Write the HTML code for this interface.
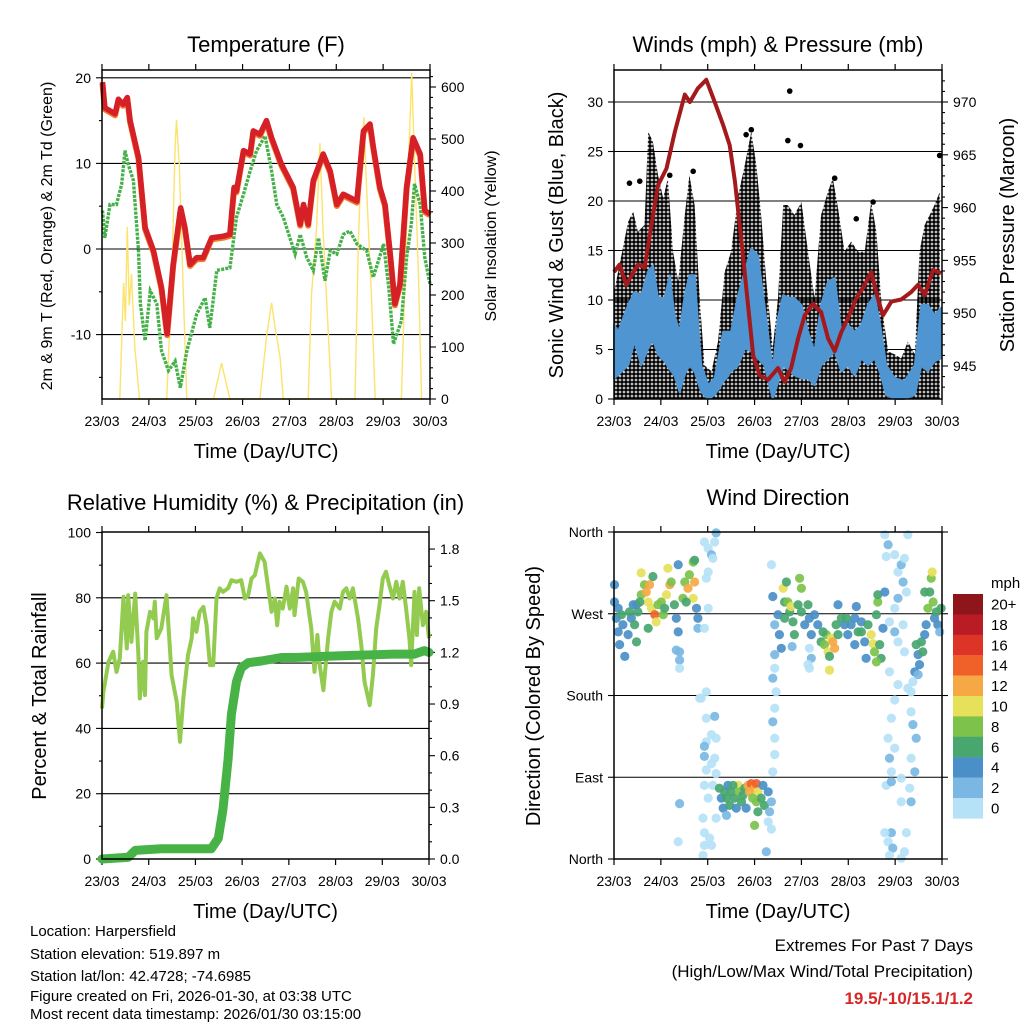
<!DOCTYPE html>
<html><head><meta charset="utf-8">
<style>
html,body{margin:0;padding:0;background:#fff;}
svg{display:block;font-family:"Liberation Sans",Arial,sans-serif;}
</style></head>
<body>
<svg id="chart" width="1024" height="1024" viewBox="0 0 1024 1024" xmlns="http://www.w3.org/2000/svg">
<defs>
<pattern id="dots" width="4" height="4" patternUnits="userSpaceOnUse"><circle cx="2" cy="2" r="1.9" fill="#000"/></pattern>
</defs>
<rect width="1024" height="1024" fill="#fff"/>
<g id="p1"></g>
<g id="p2"></g>
<g id="p3"></g>
<g id="p4"></g>
<g id="cb"></g>
<g font-size="15" fill="#000">
<text x="30" y="936">Location: Harpersfield</text>
<text x="30" y="959">Station elevation: 519.897 m</text>
<text x="30" y="981">Station lat/lon: 42.4728; -74.6985</text>
<text x="30" y="1001">Figure created on Fri, 2026-01-30, at 03:38 UTC</text>
<text x="30" y="1019">Most recent data timestamp: 2026/01/30 03:15:00</text>
</g>
<g text-anchor="end">
<text x="973" y="951" font-size="17">Extremes For Past 7 Days</text>
<text x="973" y="977" font-size="17">(High/Low/Max Wind/Total Precipitation)</text>
<text x="973" y="1004" font-size="17" font-weight="bold" fill="#d62728">19.5/-10/15.1/1.2</text>
</g>
</svg>
<script>
// ---------- data ----------
const dayLabels = ["23/03","24/03","25/03","26/03","27/03","28/03","29/03","30/03"];
// Temperature (F)
const tDays = [0.01,0.06,0.28,0.35,0.45,0.54,0.60,0.78,0.92,1.10,1.27,1.39,1.52,1.68,1.77,1.88,2.02,2.16,2.34,2.59,2.73,2.82,2.87,3.02,3.16,3.23,3.37,3.51,3.62,3.83,4.08,4.23,4.30,4.40,4.51,4.72,4.87,5.01,5.15,5.29,5.44,5.58,5.72,5.79,5.93,6.04,6.15,6.25,6.36,6.50,6.64,6.79,6.89,7.0];
const tRed = [19.5,16.5,15.8,17.5,16.9,17.7,15.0,10.7,2.5,-0.2,-4.5,-9.9,-1.8,4.8,2.5,-1.8,-1.0,-1.0,1.3,1.5,1.7,7.2,6.8,11.5,11.1,13.8,13.4,15.0,13.0,9.9,7.2,2.9,5.2,2.9,8.0,11.1,9.1,5.2,6.4,6.0,5.6,13.8,14.6,11.9,7.2,5.2,-0.6,-6.4,-4.1,7.2,13.0,11.1,4.5,4.1];
const tdDays = [0.01,0.06,0.17,0.31,0.42,0.49,0.56,0.67,0.78,0.82,0.92,1.03,1.17,1.27,1.42,1.56,1.67,1.81,2.02,2.20,2.30,2.45,2.73,2.87,3.02,3.16,3.30,3.48,3.62,3.73,3.87,4.01,4.12,4.23,4.37,4.51,4.62,4.76,4.87,5.01,5.15,5.29,5.44,5.65,5.79,6.01,6.12,6.22,6.39,6.50,6.60,6.67,6.79,6.89,7.0];
const tdGreen = [4.5,1.3,5.2,5.2,7.6,11.5,9.9,8.0,-0.2,-6.4,-10.7,-4.9,-6.4,-11.9,-14.2,-13.1,-16.2,-11.9,-7.6,-5.7,-9.2,-2.5,-2.2,3.7,6.4,9.1,11.5,13.2,9.1,5.2,3.7,1.3,-0.6,1.7,-1.0,-2.5,1.3,-3.7,-0.2,-0.6,1.7,2.1,0.6,-0.2,-3.3,0.6,-4.5,-11.1,-8.4,-1.0,2.9,7.6,5.2,-1.0,-4.1];
const solDays = [0.38,0.46,0.50,0.54,0.58,0.63,0.70,0.80, 1.38,1.49,1.56,1.59,1.65,1.70,1.81, 2.38,2.55,2.73, 3.37,3.51,3.62,3.69,3.80,3.87, 4.40,4.47,4.58,4.65,4.72,4.79,4.90, 5.40,5.47,5.54,5.59,5.65,5.75,5.83, 6.39,6.47,6.54,6.61,6.68,6.75,6.82];
const solVals = [0,223,150,331,180,240,100,0, 0,230,485,537,450,300,0, 0,69,0, 0,120,185,140,80,0, 0,200,330,492,320,200,0, 0,300,470,542,400,200,0, 0,250,450,627,430,250,0];
// Winds (mph) & pressure (mb)
const presDays = [0,0.12,0.26,0.51,0.65,0.80,0.94,1.12,1.30,1.51,1.62,1.79,1.97,2.15,2.33,2.47,2.58,2.72,2.86,2.97,3.11,3.29,3.50,3.64,3.78,3.93,4.07,4.25,4.42,4.57,4.71,4.85,4.99,5.17,5.35,5.49,5.63,5.74,5.92,6.13,6.34,6.49,6.63,6.81,6.98];
const presVals = [953.9,954.6,952.7,954.6,954.3,958.4,962.1,963.7,967.2,970.7,970.0,971.3,972.1,970.0,967.8,965.9,962.5,956.8,950.8,946.0,944.1,943.7,944.8,943.5,944.8,947.6,949.8,950.9,950.1,947.6,946.4,948.2,949.5,951.4,952.7,953.9,951.4,949.8,951.1,951.3,952.0,952.7,951.7,954.1,953.8];
const gustDays = [0,0.09,0.30,0.41,0.51,0.65,0.73,0.83,0.94,1.05,1.15,1.26,1.37,1.51,1.61,1.72,1.83,1.93,2.08,2.22,2.36,2.50,2.65,2.79,2.93,3.04,3.14,3.25,3.39,3.50,3.61,3.71,3.85,4.00,4.14,4.28,4.42,4.57,4.67,4.78,4.92,5.06,5.21,5.35,5.49,5.60,5.71,5.85,5.99,6.13,6.27,6.42,6.52,6.63,6.74,6.84,6.95];
const gustHi = [10.8,12.9,17.9,18.9,16.9,17.6,27.0,26.0,22.6,20.3,22.3,14.9,11.9,18.6,22.6,19.6,10.2,3.4,2.8,5.8,12.8,14.9,20.6,23.6,27.0,23.6,18.6,11.9,5.2,10.2,19.6,19.6,18.6,19.9,14.9,10.2,18.6,21.0,22.3,19.3,14.9,15.9,14.9,14.9,19.9,16.9,9.5,4.8,4.5,4.1,5.8,4.5,14.9,17.6,18.6,19.6,20.9];
const gustOutDays = [3.75,3.71,3.98,6.95,2.82,2.93,0.33,0.55,1.69,1.19,4.71,5.53,5.17];
const gustOutVals = [31.1,26.1,25.6,24.6,26.7,27.2,21.8,22.0,23.0,22.6,22.3,19.9,18.2];
const windDays = [0,0.09,0.30,0.44,0.58,0.73,0.83,0.94,1.08,1.19,1.29,1.40,1.51,1.61,1.72,1.86,2.01,2.15,2.33,2.50,2.65,2.79,2.93,3.07,3.21,3.39,3.50,3.61,3.75,3.85,4.00,4.14,4.28,4.42,4.57,4.71,4.85,4.99,5.14,5.28,5.42,5.56,5.67,5.81,5.99,6.20,6.42,6.56,6.70,6.84,6.98];
const windHi = [7.5,6.8,9.5,10.8,10.5,12.9,13.5,10.2,10.2,12.5,8.5,6.8,10.5,12.5,12.5,3.4,1.4,2.1,6.8,6.8,10.5,12.9,15.2,14.5,9.5,2.8,8.2,10.5,10.2,10.2,9.5,6.8,4.8,9.5,11.9,12.2,6.8,7.5,6.8,7.5,9.5,10.5,7.8,3.4,2.1,1.8,3.4,9.5,9.5,8.5,9.2];
const windLo = [2.1,2.4,3.4,5.8,3.4,5.1,6.0,4.5,3.8,3.0,2.4,0.7,2.5,3.4,2.8,0.7,0,0.4,1.7,2.8,3.4,5.1,4.8,4.1,3.4,0,1.7,3.4,2.8,2.4,2.1,2.1,1.4,3.4,4.1,4.8,2.8,3.4,2.4,4.1,3.4,4.1,2.8,0.4,0,0,0.4,3.4,2.8,3.8,4.1];
// Relative humidity & precipitation
const rhDays = [0,0.03,0.14,0.24,0.31,0.38,0.46,0.53,0.56,0.63,0.71,0.78,0.81,0.88,0.92,0.95,1.03,1.10,1.13,1.17,1.27,1.38,1.49,1.60,1.67,1.74,1.84,1.92,1.95,2.02,2.09,2.17,2.24,2.31,2.38,2.45,2.52,2.59,2.70,2.77,2.88,2.98,3.06,3.13,3.20,3.27,3.38,3.48,3.55,3.63,3.70,3.75,3.80,3.87,3.95,4.02,4.09,4.12,4.21,4.30,4.37,4.48,4.55,4.61,4.66,4.74,4.84,4.91,4.98,5.09,5.16,5.23,5.30,5.37,5.48,5.55,5.62,5.73,5.80,5.87,5.94,6.01,6.08,6.15,6.23,6.30,6.37,6.44,6.51,6.58,6.62,6.69,6.74,6.79,6.87,6.94,7.0];
const rhVals = [46.1,51.2,60.4,63.5,57.3,61.4,80.3,64.5,80.8,66.5,81.3,62.4,49.2,60.4,50.2,69.6,75.7,73.7,78.8,67.6,70.6,80.8,56.3,48.2,35.9,49.2,62.4,67.6,73.7,69.6,75.7,77.2,71.6,59.4,59.4,79.8,82.9,81.8,82.9,85.4,84.9,85.4,79.8,80.8,85.9,86.9,93.6,91.0,83.9,75.7,79.8,71.6,78.8,76.7,83.4,76.7,82.9,74.7,85.9,84.9,81.8,70.6,57.3,68.6,59.4,51.7,67.6,75.7,78.8,76.7,81.8,82.9,79.8,82.9,73.7,65.5,54.3,47.1,56.3,70.6,77.8,85.9,88.0,83.9,79.8,84.9,79.8,84.9,76.7,67.6,59.4,81.8,68.6,82.9,71.6,75.7,67.6];
const prDays = [0,0.56,0.71,1.27,2.34,2.49,2.59,2.70,2.77,2.88,2.98,3.13,3.41,3.84,4.12,5.12,6.26,6.69,6.90,7.0];
const prVals = [0.0,0.01,0.05,0.06,0.06,0.12,0.29,0.58,0.84,1.03,1.11,1.14,1.15,1.17,1.17,1.18,1.19,1.19,1.21,1.20];
// Wind direction observations (day, degrees, mph)
const dirDay = [0.01,0.01,0.05,0.09,0.12,0.19,0.23,0.30,0.37,0.44,0.48,0.41,0.51,0.58,0.58,0.65,0.69,0.73,0.76,0.80,0.87,0.90,0.94,0.83,1.01,1.05,1.12,1.15,1.19,1.22,1.29,1.33,1.37,1.40,1.40,1.37,1.40,1.47,1.51,1.58,1.61,1.69,1.72,1.69,1.76,1.79,1.79,1.72,0.73,0.48,0.09,0.16,0.33,0.55,1.08,1.54,
 1.93,2.01,2.08,2.15,2.18,2.11,2.01,1.97,2.01,1.93,1.86,1.97,1.97,2.15,2.08,1.97,1.93,1.93,2.18,2.15,2.08,1.97,2.18,1.93,2.11,2.01,1.90,2.18,1.93,2.04,1.93,2.08,1.90,1.37,1.40,1.83,1.33,
 2.25,2.29,2.33,2.36,2.43,2.47,2.50,2.57,2.61,2.65,2.68,2.72,2.79,2.82,2.86,2.93,3.00,3.04,3.07,3.04,3.07,3.14,3.18,3.21,3.29,3.32,3.29,3.36,3.36,2.40,3.00,3.25,2.40,2.54,2.75,2.89,2.96,
 3.36,3.39,3.43,3.43,3.43,3.39,3.46,3.43,3.39,3.43,3.43,3.39,
 3.50,3.53,3.57,3.61,3.64,3.64,3.68,3.71,3.75,3.78,3.82,3.85,3.93,3.96,4.00,4.00,4.07,4.14,4.17,4.21,3.80,4.21,4.17,
 4.28,4.35,4.42,4.49,4.53,4.57,4.60,4.64,4.67,4.71,4.78,4.60,4.85,4.92,4.99,5.06,5.14,5.17,5.21,5.28,5.35,5.38,5.42,5.49,5.53,5.56,5.60,5.63,5.63,5.67,5.70,5.60,5.74,5.78,4.78,5.14,4.17,4.14,4.96,5.28,4.74,4.46,
 5.78,5.81,5.85,5.99,6.06,6.13,6.17,6.20,6.27,6.24,6.06,5.99,5.88,5.99,6.17,6.06,6.20,5.88,6.06,5.99,6.27,6.34,6.38,6.42,5.92,5.85,5.99,5.88,5.92,5.81,5.92,6.13,6.13,6.31,6.34,6.24,5.92,5.85,5.95,6.20,6.13,5.88,6.38,6.45,6.34,6.42,5.78,6.34,
 6.45,6.49,6.52,6.56,6.59,6.63,6.66,6.70,6.74,6.77,6.79,6.81,6.84,6.88,6.91,6.95,6.63,6.98,6.49];
const dirDeg = [302,283,265,250,236,258,223,247,265,258,239,280,272,291,315,302,294,283,302,276,269,261,280,311,283,269,291,320,302,305,280,265,250,228,219,324,210,287,305,298,313,327,305,287,276,265,254,329,254,280,276,269,272,283,276,283,
 349,342,335,349,359,331,316,309,276,254,177,184,155,157,137,129,124,113,133,111,105,98,94,81,81,67,45,45,29,23,15,15,4,19,61,177,230,
 78,67,56,74,81,59,74,67,56,81,74,63,78,56,81,83,78,83,74,63,52,67,81,59,74,52,41,33,63,48,37,8,67,81,70,74,67,
 324,289,258,225,210,199,184,166,151,133,115,96,
 269,247,232,298,283,265,305,283,272,278,261,247,280,309,298,272,258,280,265,247,234,221,210,
 269,258,239,236,247,228,223,243,239,232,247,208,265,258,247,258,265,278,250,261,239,221,258,247,237,228,269,283,291,236,221,217,254,294,280,236,232,214,265,250,258,250,
 357,333,346,335,316,324,305,331,357,294,287,276,261,250,258,239,228,206,192,175,188,184,195,206,155,133,122,111,96,81,85,89,63,78,63,29,29,19,12,8,1,4,148,133,111,96,29,162,
 236,225,214,239,228,247,258,276,294,309,316,283,265,272,258,250,294,276,203];
const dirSpd = [4,4,4,4,4,4,4,4,5,7,6,4,7,8,10,8,12,11,12,10,15,10,8,6,8,8,10,10,12,9,6,4,4,2,2,4,1,8,8,12,8,9,12,11,4,4,3,7,7,5,4,6,6,6,6,6,
 1,1,2,1,2,1,0,1,1,1,0,1,0,3,1,1,2,3,1,1,0,1,0,0,1,1,0,1,1,0,1,1,1,0,3,0,2,
 6,5,4,6,5,6,7,6,5,10,8,6,6,5,13,14,12,14,11,8,7,6,5,6,4,2,1,1,3,3,8,3,6,7,7,12,9,
 1,4,2,3,1,3,1,1,2,1,1,1,
 4,4,4,10,7,6,6,8,7,10,6,6,7,9,8,6,5,6,4,4,3,2,1,
 4,4,6,9,8,10,7,10,12,13,7,10,6,5,4,5,4,4,6,5,5,4,6,10,11,8,7,8,7,6,6,9,4,4,4,4,1,1,7,6,6,7,
 1,1,2,1,1,2,2,1,1,1,2,1,1,2,1,1,1,1,0,0,0,0,1,4,1,0,0,3,0,1,3,1,1,1,3,1,3,1,3,0,1,1,3,3,1,3,0,1,
 6,4,4,6,7,4,4,8,7,8,10,8,5,6,5,3,6,6,3];
const speedLabels = ["20+","18","16","14","12","10","8","6","4","2","0"];
const speedColors = ["#8e1519","#b91c24","#de3327","#f0612a","#f6a845","#e6e05a","#7cc24b","#48a66f","#4a8fc7","#7ab8e3","#b5e2f7"];

// ---------- helpers ----------
const NS = "http://www.w3.org/2000/svg";
function mk(parent, tag, attrs, text){
  const e = document.createElementNS(NS, tag);
  for (const k in attrs) e.setAttribute(k, attrs[k]);
  if (text !== undefined) e.textContent = text;
  parent.appendChild(e);
  return e;
}
function pathFrom(xs, ys, fx, fy){
  let d = "";
  for (let i=0;i<xs.length;i++) d += (i?"L":"M") + fx(xs[i]).toFixed(1) + "," + fy(ys[i]).toFixed(1);
  return d;
}
function areaFrom(xs, hi, lo, fx, fy){
  let d = "";
  for (let i=0;i<xs.length;i++) d += (i?"L":"M") + fx(xs[i]).toFixed(1) + "," + fy(hi[i]).toFixed(1);
  for (let i=xs.length-1;i>=0;i--) d += "L" + fx(xs[i]).toFixed(1) + "," + fy(lo[i]).toFixed(1);
  return d + "Z";
}
function frame(g, P, title, titleY, xTitle){
  const fx = d => P.x0 + d*(P.x1-P.x0)/7;
  const t = mk(g,"text",{x:(P.x0+P.x1)/2,y:titleY,"font-size":22,"text-anchor":"middle"},title);
  
  
  const xt = mk(g,"text",{x:(P.x0+P.x1)/2,y:P.y1+59,"font-size":20,"text-anchor":"middle"},xTitle);
  
  
  for (let i=0;i<dayLabels.length;i++){
    const x = fx(i);
    const tk = mk(g,"path",{d:`M${x},${P.y1}v6M${x},${P.y0}v-6`,stroke:"#000","stroke-width":1.2});
    
    
    const lb = mk(g,"text",{x:x,y:P.y1+27,"font-size":14,"text-anchor":"middle"},dayLabels[i]);
    
    
  }
  return fx;
}
function border(g,P){
  const b = mk(g,"rect",{x:P.x0,y:P.y0,width:P.x1-P.x0,height:P.y1-P.y0,fill:"none",stroke:"#000","stroke-width":1.5});
  
  
}
function hline(g,P,y){
  const l = mk(g,"line",{x1:P.x0,x2:P.x1,y1:y,y2:y,stroke:"#000","stroke-width":1.1});
  
  
}
function ytick(g,P,y,side,label,len){
  const x = side==="l"?P.x0:P.x1;
  const dx = side==="l"?-len:len;
  const t = mk(g,"line",{x1:x,x2:x+dx,y1:y,y2:y,stroke:"#000","stroke-width":1.1});
  
  
  if (label!==null){
    const lb = mk(g,"text",{x:side==="l"?x-11:x+11,y:y+5,"font-size":14,"text-anchor":side==="l"?"end":"start"},label);
    
    
  }
}
function vlabel(g,x,y,txt,size,name){
  const e = mk(g,"text",{x:x,y:y,"font-size":size,"text-anchor":"middle",transform:`rotate(-90 ${x} ${y})`},txt);
  
  
}
function speedColor(s){
  let idx = Math.min(10, Math.floor(s/2));
  return speedColors[10-idx];
}

// ---------- Panel 1: Temperature ----------
(function(){
  const g = document.getElementById("p1");
  const P = {x0:102,x1:430,y0:70,y1:399};
  const fx = frame(g,P,"Temperature (F)",52,"Time (Day/UTC)");
  const fy = v => 249 - v*8.56;
  const fs = v => 399 - v*0.52;
  [20,10,0,-10].forEach(v=>{hline(g,P,fy(v)); ytick(g,P,fy(v),"l",String(v),6);});
  [15,5,-5,-15].forEach(v=>ytick(g,P,fy(v),"l",null,3));
  for (let v=0; v<=600; v+=100) ytick(g,P,fs(v),"r",String(v),6);
  for (let v=20; v<=620; v+=20) if (v%100) ytick(g,P,fs(v),"r",null,3);
  const sol = mk(g,"path",{d:pathFrom(solDays,solVals,fx,fs),fill:"none",stroke:"#fde36b","stroke-width":1.4});
  
  
  const td = mk(g,"path",{d:pathFrom(tdDays,tdGreen,fx,fy),fill:"none",stroke:"#46b04a","stroke-width":3.4,"stroke-dasharray":"3 1.2"});
  
  
  const or = mk(g,"path",{d:pathFrom(tDays,tRed,fx,v=>fy(v)+1.5),fill:"none",stroke:"#f4792a","stroke-width":6,"stroke-linejoin":"round"});
  
  
  const rd = mk(g,"path",{d:pathFrom(tDays,tRed,fx,fy),fill:"none",stroke:"#d42026","stroke-width":5.5,"stroke-linejoin":"round"});
  
  
  border(g,P);
  vlabel(g,52,236,"2m & 9m T (Red, Orange) & 2m Td (Green)",16,"y-axis-title");
  vlabel(g,496,236,"Solar Insolation (Yellow)",16,"y2-axis-title");
})();

// ---------- Panel 2: Winds & Pressure ----------
(function(){
  const g = document.getElementById("p2");
  const P = {x0:614,x1:942,y0:70,y1:399};
  const fx = frame(g,P,"Winds (mph) & Pressure (mb)",52,"Time (Day/UTC)");
  const fy = v => 399 - v*9.9;
  const fp = p => 102 + (970-p)*10.56;
  for (let v=0; v<=30; v+=5){ if (v>0) hline(g,P,fy(v)); ytick(g,P,fy(v),"l",String(v),6); }
  for (let p=945; p<=970; p+=5) ytick(g,P,fp(p),"r",String(p),6);
  for (let p=943; p<=972; p++) if (p%5) ytick(g,P,fp(p),"r",null,3);
  const gustLo = gustDays.map(()=>0);
  const ga = mk(g,"path",{d:areaFrom(gustDays,gustHi,gustLo,fx,fy),fill:"url(#dots)",stroke:"none"});
  
  
  for (let i=0;i<gustOutDays.length;i++){
    const c = mk(g,"circle",{cx:fx(gustOutDays[i]),cy:fy(gustOutVals[i]),r:2.8,fill:"#000"});
    
    
  }
  const wa = mk(g,"path",{d:areaFrom(windDays,windHi,windLo,fx,fy),fill:"#4f95d1",stroke:"#4f95d1","stroke-width":2,"stroke-linejoin":"round"});
  
  
  const pr = mk(g,"path",{d:pathFrom(presDays,presVals,fx,fp),fill:"none",stroke:"#a3191c","stroke-width":4,"stroke-linejoin":"round"});
  
  
  border(g,P);
  vlabel(g,563,235,"Sonic Wind & Gust (Blue, Black)",20,"y-axis-title");
  vlabel(g,1014,235,"Station Pressure (Maroon)",20,"y2-axis-title");
})();

// ---------- Panel 3: RH & Precip ----------
(function(){
  const g = document.getElementById("p3");
  const P = {x0:102,x1:429,y0:532,y1:859};
  const fx = frame(g,P,"Relative Humidity (%) & Precipitation (in)",510,"Time (Day/UTC)");
  const fy = v => 859 - v*3.265;
  const fr = v => 859 - v*172.2;
  for (let v=0; v<=100; v+=20){ if (v>0 && v<100) hline(g,P,fy(v)); ytick(g,P,fy(v),"l",String(v),6); }
  for (let v=10; v<100; v+=20) ytick(g,P,fy(v),"l",null,3);
  ["0.0","0.3","0.6","0.9","1.2","1.5","1.8"].forEach((s,i)=>ytick(g,P,fr(i*0.3),"r",s,6));
  for (let v=0.1; v<1.85; v+=0.1) if (Math.abs(v*10 % 3) > 0.5 && Math.abs(v*10%3-3)>0.5) ytick(g,P,fr(v),"r",null,3);
  const rh = mk(g,"path",{d:pathFrom(rhDays,rhVals,fx,fy),fill:"none",stroke:"#92cb4f","stroke-width":4,"stroke-linejoin":"round"});
  
  
  const pc = mk(g,"path",{d:pathFrom(prDays,prVals,fx,fr),fill:"none",stroke:"#47b347","stroke-width":9,"stroke-linejoin":"round","stroke-linecap":"round"});
  
  
  border(g,P);
  vlabel(g,46,696,"Percent & Total Rainfall",20,"y-axis-title");
})();

// ---------- Panel 4: Wind direction ----------
(function(){
  const g = document.getElementById("p4");
  const P = {x0:614,x1:942,y0:532,y1:859};
  const fx = frame(g,P,"Wind Direction",505,"Time (Day/UTC)");
  const fy = d => 859 - d*0.9083;
  const dirLabels = ["North","East","South","West","North"];
  dirLabels.forEach((s,i)=>{ const y=fy(i*90); if(i>0&&i<4) hline(g,P,y); ytick(g,P,y,"l",s,6); ytick(g,P,y,"r",null,6); });
  for (let i=0;i<dirDay.length;i++){
    const c = mk(g,"circle",{cx:fx(dirDay[i]).toFixed(1),cy:fy(dirDeg[i]).toFixed(1),r:4.6,fill:speedColor(dirSpd[i]),"fill-opacity":0.92});
    
    
  }
  border(g,P);
  vlabel(g,540,696,"Direction (Colored By Speed)",20,"y-axis-title");
})();

// ---------- Colorbar ----------
(function(){
  const g = document.getElementById("cb");
  const t = mk(g,"text",{x:991,y:588,"font-size":15},"mph");
  
  
  for (let i=0;i<speedLabels.length;i++){
    const y = 594 + i*20.4;
    const r = mk(g,"rect",{x:953,y:y,width:30,height:20.6,fill:speedColors[i]});
    
    
    const l = mk(g,"text",{x:991,y:y+15.5,"font-size":15},speedLabels[i]);
    
    
  }
})();
</script>
</body></html>
